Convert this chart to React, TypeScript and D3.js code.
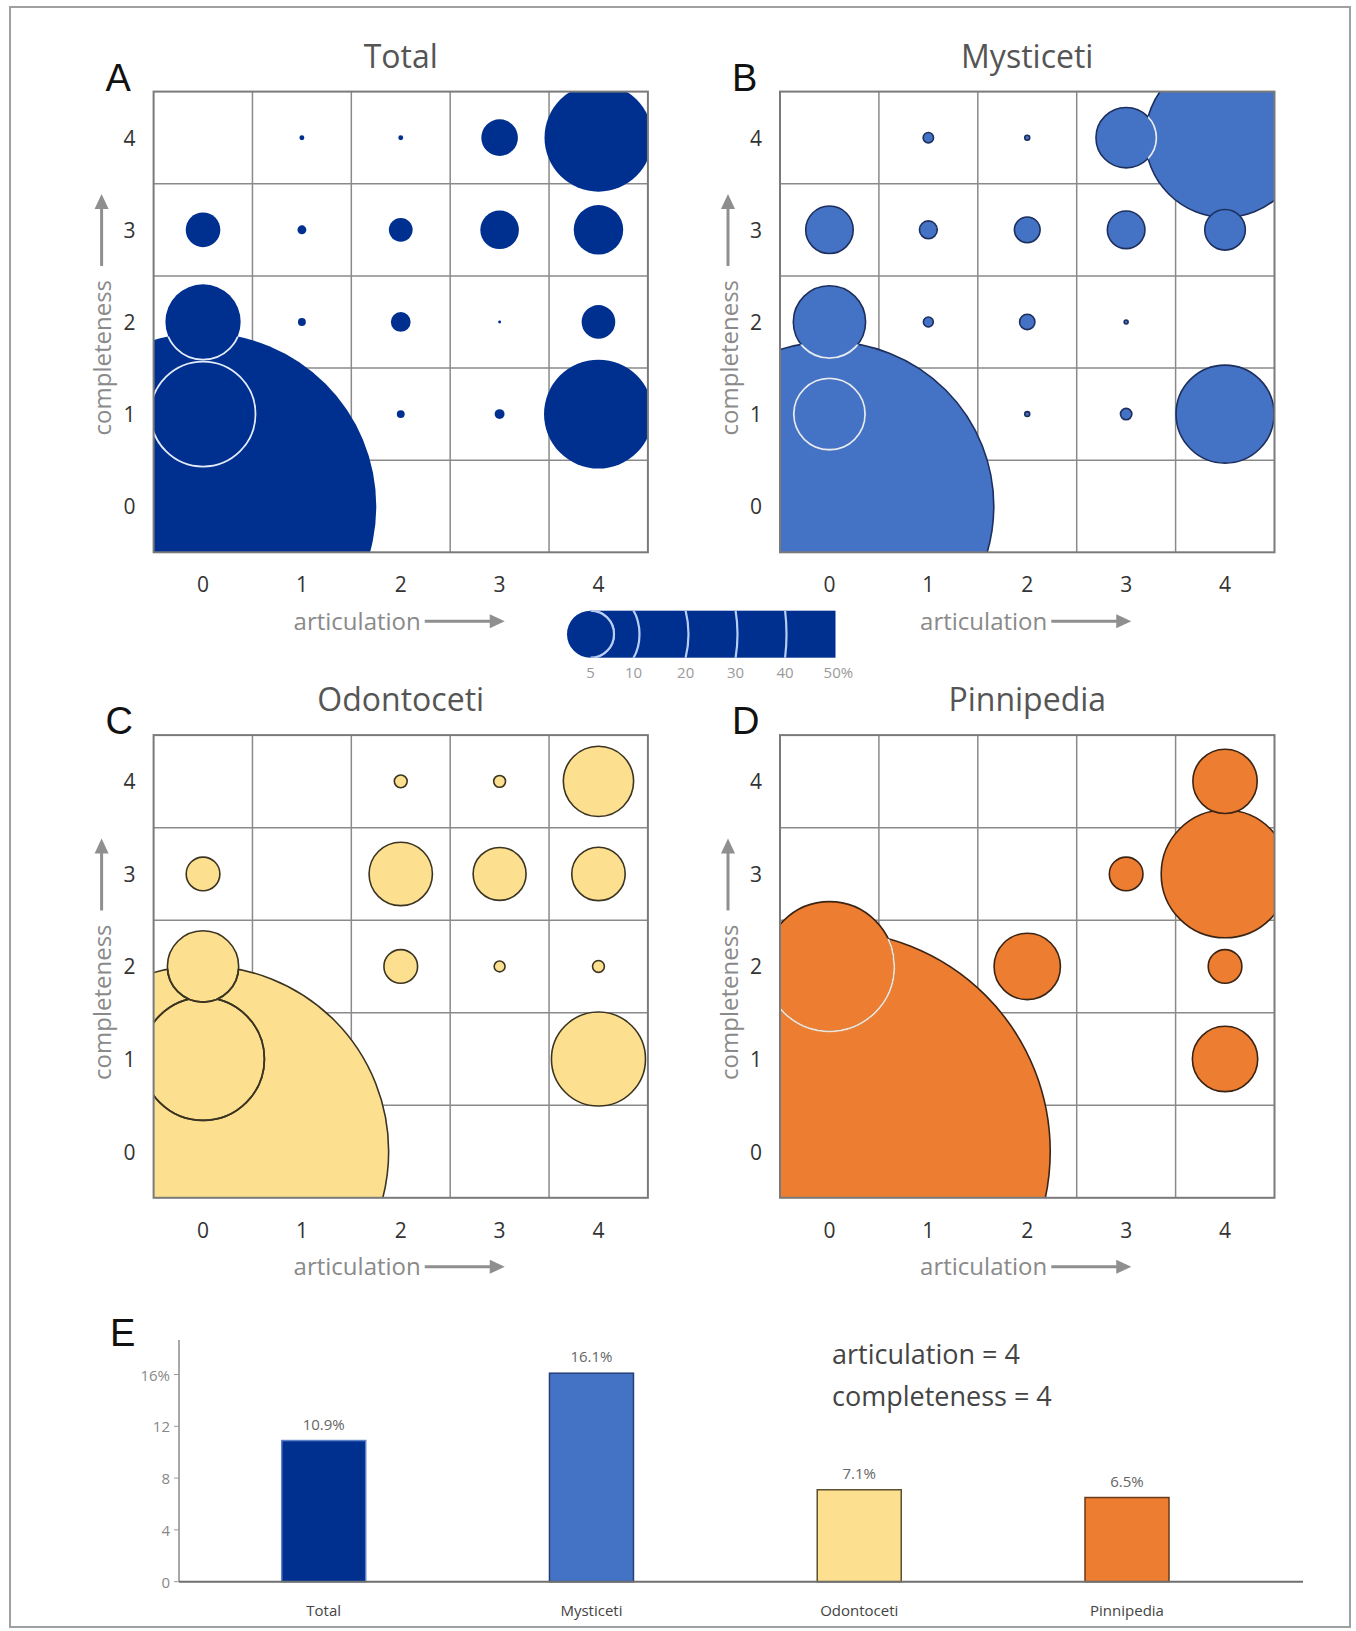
import React from 'react';
import * as d3 from 'd3';

// ---------- data ----------
const articulation = [0, 1, 2, 3, 4];
const completeness = [4, 3, 2, 1, 0]; // rows, top to bottom

// percentages, rows = completeness 4..0, columns = articulation 0..4
const totalPct = [
  [0, 0.5, 0.5, 3.7, 10.9],
  [3.5, 0.9, 2.4, 3.9, 5.0],
  [7.6, 0.8, 2.0, 0.3, 3.4],
  [10.6, 0, 0.8, 1.0, 11.0],
  [35.0, 0, 0, 0, 0],
];
const mysticetiPct = [
  [0, 1.05, 0.5, 6.1, 16.1],
  [4.8, 1.8, 2.6, 3.8, 4.1],
  [7.3, 1.0, 1.55, 0.4, 0],
  [7.2, 0, 0.5, 1.15, 9.9],
  [33.2, 0, 0, 0, 0],
];
const odontocetiPct = [
  [0, 0, 1.3, 1.2, 7.1],
  [3.4, 0, 6.4, 5.35, 5.4],
  [7.2, 0, 3.4, 1.1, 1.2],
  [12.4, 0, 0, 0, 9.5],
  [37.5, 0, 0, 0, 0],
];
const pinnipediaPct = [
  [0, 0, 0, 0, 6.5],
  [0, 0, 0, 3.4, 12.9],
  [13.1, 0, 6.7, 0, 3.4],
  [0, 0, 0, 0, 6.6],
  [44.6, 0, 0, 0, 0],
];

const legendPct = [5, 10, 20, 30, 40, 50];

const groups = ['Total', 'Mysticeti', 'Odontoceti', 'Pinnipedia'];
const fullScorePct = [10.9, 16.1, 7.1, 6.5];
const barTicks = [0, 4, 8, 12, 16];

// ---------- styles ----------
const FONT = "'Open Sans', 'DejaVu Sans', sans-serif";
const LETTER_FONT = "'Liberation Sans', Arial, sans-serif";
const AXIS_GRAY = '#8f8f8f';

const rScale = d3.scaleLinear().domain([0, 50]).range([0, 247.5]);
const rLegend = d3.scaleLinear().domain([0, 50]).range([0, 245]);

type Box = { x0: number; x1: number; y0: number; y1: number };

function UpArrow({ x, yStart, yTip }: { x: number; yStart: number; yTip: number }) {
  return (
    <g>
      <line x1={x} x2={x} y1={yStart} y2={yTip + 12} stroke={AXIS_GRAY} strokeWidth={3} />
      <polygon points={`${x},${yTip} ${x - 7},${yTip + 15} ${x + 7},${yTip + 15}`} fill={AXIS_GRAY} />
    </g>
  );
}

function RightArrow({ y, xStart, xTip }: { y: number; xStart: number; xTip: number }) {
  return (
    <g>
      <line x1={xStart} x2={xTip - 12} y1={y} y2={y} stroke={AXIS_GRAY} strokeWidth={3} />
      <polygon points={`${xTip},${y} ${xTip - 15},${y - 7} ${xTip - 15},${y + 7}`} fill={AXIS_GRAY} />
    </g>
  );
}

function BubblePanel({
  id, letter, title, values, fill, stroke, overlapStroke, box,
}: {
  id: string; letter: string; title: string; values: number[][];
  fill: string; stroke: string; overlapStroke: string; box: Box;
}) {
  const { x0, x1, y0, y1 } = box;
  const x = d3.scaleBand<number>().domain(articulation).range([x0, x1]);
  const y = d3.scaleBand<number>().domain(completeness).range([y0, y1]);
  const bw = x.bandwidth();
  const bh = y.bandwidth();
  const cells: { a: number; c: number; p: number; cx: number; cy: number; r: number }[] = [];
  completeness.forEach((c, ri) =>
    articulation.forEach((a, ci) => {
      const p = values[ri][ci];
      if (p > 0) cells.push({ a, c, p, cx: (x(a) as number) + bw / 2, cy: (y(c) as number) + bh / 2, r: rScale(p) });
    })
  );
  cells.sort((m, n) => n.r - m.r);
  const largest = cells[0];
  const cid = (cell: { a: number; c: number }) => `${id}-cc-${cell.a}-${cell.c}`;
  const xm = (x0 + x1) / 2;
  const ym = (y0 + y1) / 2;

  return (
    <g>
      <defs>
        <clipPath id={`${id}-plot`}>
          <rect x={x0} y={y0} width={x1 - x0} height={y1 - y0} />
        </clipPath>
        {cells.map((cell) => (
          <clipPath key={cid(cell)} id={cid(cell)}>
            <circle cx={cell.cx} cy={cell.cy} r={cell.r} />
          </clipPath>
        ))}
      </defs>
      {/* title + letter */}
      <text x={xm} y={y0 - 24} textAnchor="middle" fontFamily={FONT} fontSize={32} fill="#555">{title}</text>
      <text x={x0 - 48} y={y0 - 1} fontFamily={LETTER_FONT} fontSize={38} fill="#111">{letter}</text>
      {/* grid */}
      <rect x={x0} y={y0} width={x1 - x0} height={y1 - y0} fill="#fff" />
      {articulation.slice(1).map((a) => (
        <line key={`v${a}`} x1={x(a)} x2={x(a)} y1={y0} y2={y1} stroke="#8a8a8a" strokeWidth={1.5} />
      ))}
      {completeness.slice(1).map((c) => (
        <line key={`h${c}`} x1={x0} x2={x1} y1={y(c)} y2={y(c)} stroke="#8a8a8a" strokeWidth={1.5} />
      ))}
      {/* bubbles */}
      <g clipPath={`url(#${id}-plot)`}>
        {cells.map((cell, i) => (
          <g key={`b-${cid(cell)}`}>
            <circle cx={cell.cx} cy={cell.cy} r={cell.r} fill={fill} stroke={stroke} strokeWidth={1.6} />
            {cells.slice(0, i)
              .filter((big) => Math.hypot(big.cx - cell.cx, big.cy - cell.cy) < big.r + cell.r)
              .filter((big) => big === largest || (big.r > 2 * cell.r && big.r - cell.r < Math.hypot(big.cx - cell.cx, big.cy - cell.cy) + cell.r * 0.2 && cell.c === big.c))
              .map((big) => (
                <circle key={`o-${cid(big)}`} cx={cell.cx} cy={cell.cy} r={cell.r} fill="none"
                  stroke={overlapStroke} strokeWidth={1.8} clipPath={`url(#${cid(big)})`} />
              ))}
          </g>
        ))}
      </g>
      <rect x={x0} y={y0} width={x1 - x0} height={y1 - y0} fill="none" stroke="#7a7a7a" strokeWidth={2} />
      {/* tick labels */}
      {articulation.map((a) => (
        <text key={`xt${a}`} x={(x(a) as number) + bw / 2} y={y1 + 32} textAnchor="middle" dominantBaseline="central"
          fontFamily={FONT} fontSize={21} fill="#333">{a}</text>
      ))}
      {completeness.map((c) => (
        <text key={`yt${c}`} x={x0 - 24} y={(y(c) as number) + bh / 2} textAnchor="middle" dominantBaseline="central"
          fontFamily={FONT} fontSize={21} fill="#333">{c}</text>
      ))}
      {/* axis titles */}
      <text x={xm + 20} y={y1 + 68} textAnchor="end" dominantBaseline="central" fontFamily={FONT} fontSize={24} fill="#8a8a8a">articulation</text>
      <RightArrow y={y1 + 69} xStart={xm + 24} xTip={xm + 104} />
      <text transform={`translate(${x0 - 52},${ym - 42}) rotate(-90)`} textAnchor="end" dominantBaseline="central"
        fontFamily={FONT} fontSize={24} fill="#8a8a8a">completeness</text>
      <UpArrow x={x0 - 52} yStart={ym - 56} yTip={ym - 128} />
    </g>
  );
}

function Legend() {
  const cx = 590.5;
  const cy = 634.2;
  const h = rLegend(5) - 1;
  const right = cx + rLegend(50);
  return (
    <g>
      <defs>
        <clipPath id="legend-bar">
          <rect x={cx} y={cy - h} width={right - cx} height={2 * h} />
        </clipPath>
      </defs>
      <rect x={cx} y={cy - h} width={right - cx} height={2 * h} fill="#00308f" />
      <g clipPath="url(#legend-bar)">
        {legendPct.slice(1, -1).map((p) => (
          <circle key={p} cx={cx} cy={cy} r={rLegend(p)} fill="none" stroke="#b8cdf2" strokeWidth={2.2} />
        ))}
        <circle cx={cx} cy={cy} r={rLegend(5) - 1} fill="none" stroke="#b8cdf2" strokeWidth={2.2} />
      </g>
      <circle cx={cx} cy={cy} r={rLegend(5) - 1} fill="#00308f" />
      <g clipPath="url(#legend-bar)">
        <circle cx={cx} cy={cy} r={rLegend(5) - 1} fill="none" stroke="#b8cdf2" strokeWidth={2.2} />
      </g>
      {legendPct.map((p, i) => {
        const r = rLegend(p);
        const lx = i === 0 ? cx : Math.min(cx + Math.sqrt(Math.max(r * r - h * h, 0)), right);
        return (
          <text key={p} x={i === legendPct.length - 1 ? lx + 4 : lx} y={cy + 38} textAnchor="middle" dominantBaseline="central"
            fontFamily={FONT} fontSize={15} fill="#9a9a9a">{i === legendPct.length - 1 ? `${p}%` : p}</text>
        );
      })}
    </g>
  );
}

const barFill = ['#00308f', '#4472c4', '#fde08f', '#ed7d31'];
const barStroke = ['#5d80c8', '#263f78', '#5a5030', '#6b3a1a'];

function BarPanel() {
  const y = d3.scaleLinear().domain([0, 16]).range([1581.7, 1374.5]);
  const x = d3.scalePoint<string>().domain(groups).range([323.7, 1127]);
  const bw = 84;
  const axisX = 179;
  return (
    <g>
      <text x={110} y={1346} fontFamily={LETTER_FONT} fontSize={38} fill="#111">E</text>
      {groups.map((g, i) => (
        <g key={g}>
          <rect x={(x(g) as number) - bw / 2} y={y(fullScorePct[i])} width={bw} height={y(0) - y(fullScorePct[i])}
            fill={barFill[i]} stroke={barStroke[i]} strokeWidth={1.5} />
          <text x={x(g)} y={y(fullScorePct[i]) - 17} textAnchor="middle" dominantBaseline="central"
            fontFamily={FONT} fontSize={15} fill="#666">{`${fullScorePct[i]}%`}</text>
          <text x={x(g)} y={1610} textAnchor="middle" dominantBaseline="central"
            fontFamily={FONT} fontSize={15} fill="#444">{g}</text>
        </g>
      ))}
      <line x1={axisX} x2={axisX} y1={1340} y2={y(0)} stroke="#8a8a8a" strokeWidth={1.5} />
      <line x1={axisX} x2={1303} y1={y(0)} y2={y(0)} stroke="#6f6f6f" strokeWidth={2} />
      {barTicks.map((t, i) => (
        <g key={t}>
          <line x1={axisX - 5} x2={axisX} y1={y(t)} y2={y(t)} stroke="#9a9a9a" strokeWidth={1} />
          <text x={axisX - 9} y={y(t)} textAnchor="end" dominantBaseline="central" fontFamily={FONT} fontSize={15}
            fill="#888">{i === barTicks.length - 1 ? `${t}%` : t}</text>
        </g>
      ))}
      <text x={832} y={1364} fontFamily={FONT} fontSize={27} fill="#444">articulation = 4</text>
      <text x={832} y={1406} fontFamily={FONT} fontSize={27} fill="#444">completeness = 4</text>
    </g>
  );
}

export default function App() {
  return (
    <svg width={1356} height={1631} style={{ position: 'absolute', left: 0, top: 0, background: '#fff' }}>
      <rect x={0} y={0} width={1356} height={1631} fill="#fff" />
      <rect x={10} y={7} width={1340} height={1620} fill="none" stroke="#a0a0a0" strokeWidth={2} />
      <BubblePanel id="pa" letter="A" title="Total" values={totalPct} fill="#00308f" stroke="none"
        overlapStroke="#e4ebf8" box={{ x0: 153.6, x1: 647.9, y0: 91.6, y1: 552.3 }} />
      <BubblePanel id="pb" letter="B" title="Mysticeti" values={mysticetiPct} fill="#4472c4" stroke="#1d2f5e"
        overlapStroke="#e4ebf8" box={{ x0: 780, x1: 1274.5, y0: 91.6, y1: 552.3 }} />
      <BubblePanel id="pc" letter="C" title="Odontoceti" values={odontocetiPct} fill="#fde08f" stroke="#3b3422"
        overlapStroke="#3b3422" box={{ x0: 153.6, x1: 647.9, y0: 735.1, y1: 1197.8 }} />
      <BubblePanel id="pd" letter="D" title="Pinnipedia" values={pinnipediaPct} fill="#ed7d31" stroke="#3b2414"
        overlapStroke="#f6e3cf" box={{ x0: 780, x1: 1274.5, y0: 735.1, y1: 1197.8 }} />
      <Legend />
      <BarPanel />
    </svg>
  );
}
